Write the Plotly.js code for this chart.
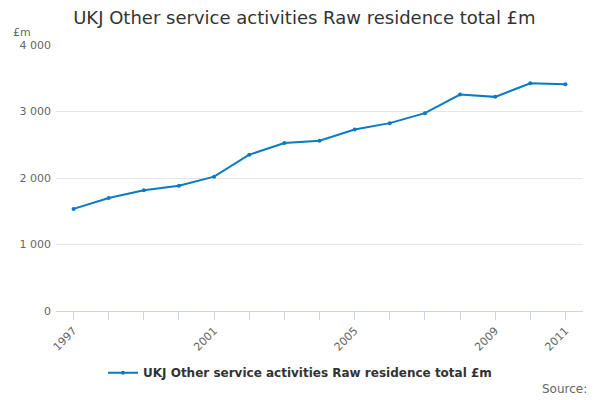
<!DOCTYPE html>
<html>
<head>
<meta charset="utf-8">
<script src="https://cdn.plot.ly/plotly-3.0.1.min.js"></script>
<style>
  html, body { margin: 0; padding: 0; background: #fff; }
  #chart { width: 600px; height: 400px; }
</style>
</head>
<body>
<div id="chart"></div>
<script>
var years = [1997, 1998, 1999, 2000, 2001, 2002, 2003, 2004, 2005, 2006, 2007, 2008, 2009, 2010, 2011];
var values = [1535, 1700, 1815, 1885, 2020, 2350, 2525, 2560, 2730, 2825, 2975, 3255, 3220, 3425, 3410];
var yearLabels = ["1997", "", "", "", "2001", "", "", "", "2005", "", "", "", "2009", "", "2011"];
var seriesName = "UKJ Other service activities Raw residence total £m";
var chartTitle = "UKJ Other service activities Raw residence total £m";

var lineColor = "#097bc3";

var trace = {
    x: years,
    y: values,
    name: seriesName,
    type: "scatter",
    mode: "lines+markers",
    line: {color: lineColor, width: 2},
    marker: {color: lineColor, size: 4}
};

var layout = {
    width: 600,
    height: 400,
    margin: {l: 56, r: 17, t: 45, b: 89},
    paper_bgcolor: "#fff",
    plot_bgcolor: "#fff",
    font: {family: "DejaVu Sans, sans-serif", color: "#666", size: 11},
    separators: ". ",
    title: {
        text: chartTitle,
        x: 0.122, xanchor: "left", xref: "container",
        y: 0.955, yanchor: "middle", yref: "container",
        font: {size: 18, color: "#333"}
    },
    xaxis: {
        range: [1996.5, 2011.5],
        tickvals: years,
        ticktext: yearLabels,
        tickangle: -45,
        ticks: "outside",
        ticklen: 8,
        tickcolor: "#ccd6eb",
        showline: true,
        linecolor: "#ccd6eb",
        linewidth: 1,
        showgrid: false,
        zeroline: false,
        fixedrange: true
    },
    yaxis: {
        range: [0, 4000],
        tickvals: [0, 1000, 2000, 3000, 4000],
        tickformat: ",d",
        showgrid: true,
        gridcolor: "#e6e6e6",
        zeroline: false,
        showline: false,
        ticks: "",
        ticklabelstandoff: 4,
        fixedrange: true
    },
    showlegend: true,
    legend: {
        orientation: "h",
        x: 0.5, xanchor: "center", xref: "container",
        y: 0.068, yanchor: "middle", yref: "container",
        font: {size: 12, color: "#333", weight: "bold"}
    },
    annotations: [
        {
            text: "£m", xref: "paper", yref: "paper",
            x: -0.085, y: 1.0, xanchor: "left", yanchor: "bottom",
            yshift: 4, showarrow: false,
            font: {size: 11, color: "#666"}
        },
        {
            text: "Source:", xref: "paper", yref: "paper",
            x: 1.0, y: 0, xanchor: "right", yanchor: "middle",
            xshift: 6, yshift: -78, showarrow: false,
            font: {size: 12, color: "#666"}
        }
    ]
};

Plotly.newPlot("chart", [trace], layout, {displayModeBar: false, staticPlot: true});
</script>
</body>
</html>
